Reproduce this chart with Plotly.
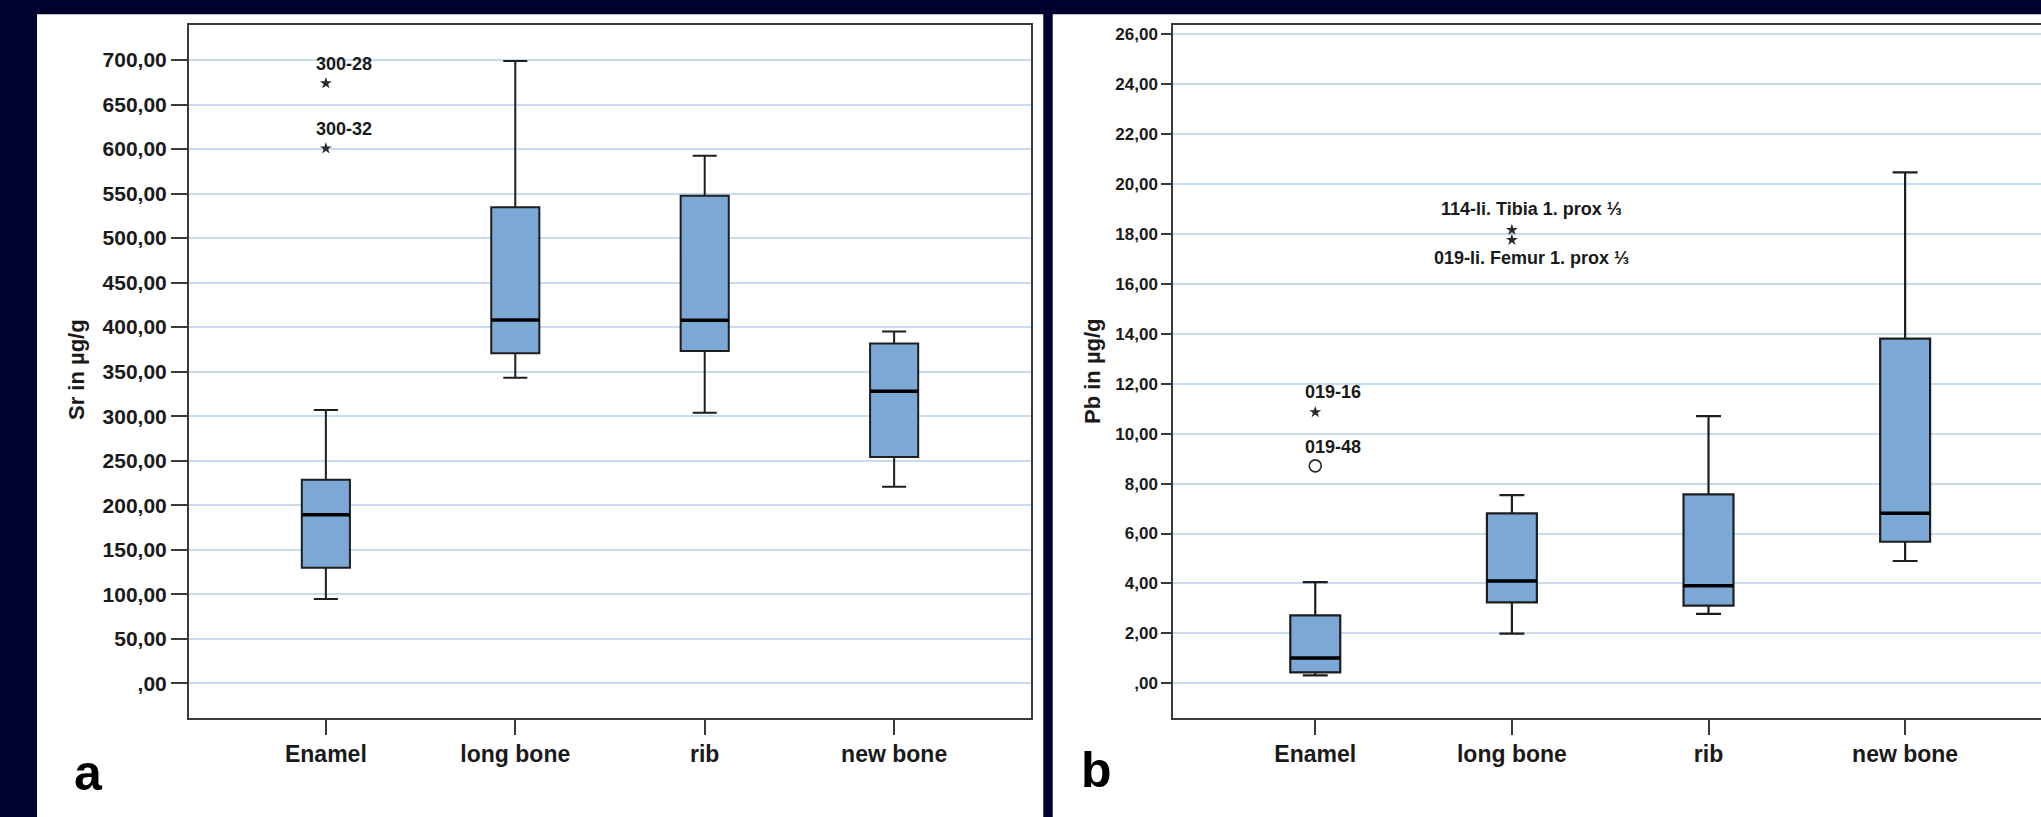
import plotly.graph_objects as go

W, H = 2041, 817

# ---------------- data ----------------
categories = ["Enamel", "long bone", "rib", "new bone"]

# panel a: Sr in µg/g
sr_lower = [94.7, 343.2, 303.9, 220.8]
sr_q1 = [129.8, 370.6, 373.2, 254.2]
sr_median = [189.4, 408.0, 407.7, 328.0]
sr_q3 = [228.7, 534.6, 547.6, 381.7]
sr_upper = [307.0, 699.0, 592.6, 395.2]
sr_star_cat = [0, 0]
sr_star_val = [673.9, 600.8]
sr_star_lbl = ["300-28", "300-32"]

# panel b: Pb in µg/g
pb_lower = [0.32, 1.99, 2.78, 4.90]
pb_q1 = [0.44, 3.24, 3.11, 5.67]
pb_median = [1.01, 4.10, 3.91, 6.81]
pb_q3 = [2.72, 6.81, 7.57, 13.81]
pb_upper = [4.05, 7.54, 10.70, 20.47]
pb_star_cat = [0, 1, 1]
pb_star_val = [10.86, 18.16, 17.76]
pb_star_lbl = ["019-16", "114-li. Tibia 1. prox \u2153", "019-li. Femur 1. prox \u2153"]
pb_circ_cat = [0]
pb_circ_val = [8.71]
pb_circ_lbl = ["019-48"]

sr_ticks = list(range(0, 701, 50))
sr_ticktext = [(f"{v},00" if v else ",00") for v in sr_ticks]
pb_ticks = list(range(0, 27, 2))
pb_ticktext = [(f"{v},00" if v else ",00") for v in pb_ticks]

# ---------------- styling ----------------
NAVY = "#01012D"
FILL = "#7BA8D5"
EDGE = "#1E1E1E"
GRID = "#C8DCF0"
AX = "#3A3A3A"
TXT = "#1A1A1A"
FONT = "Arial, Liberation Sans, sans-serif"
BOXW = 0.254

def px(x):
    return x / W

def py(y):
    return 1 - y / H

ydom = [py(717.7), py(25)]

fig = go.Figure()

cat_idx = list(range(len(categories)))

fig.add_trace(go.Box(
    x=cat_idx, q1=sr_q1, median=sr_median, q3=sr_q3,
    lowerfence=sr_lower, upperfence=sr_upper,
    width=BOXW, whiskerwidth=0.5, fillcolor=FILL,
    line=dict(color=EDGE, width=2), boxpoints=False,
    xaxis="x", yaxis="y", showlegend=False, hoverinfo="skip"))

fig.add_trace(go.Box(
    x=cat_idx, q1=pb_q1, median=pb_median, q3=pb_q3,
    lowerfence=pb_lower, upperfence=pb_upper,
    width=BOXW, whiskerwidth=0.5, fillcolor=FILL,
    line=dict(color=EDGE, width=2.2), boxpoints=False,
    xaxis="x2", yaxis="y2", showlegend=False, hoverinfo="skip"))

# outliers
fig.add_trace(go.Scatter(
    x=sr_star_cat, y=sr_star_val, mode="markers",
    marker=dict(symbol="star", size=9, color="#2A2A2A"),
    xaxis="x", yaxis="y", showlegend=False, hoverinfo="skip"))
fig.add_trace(go.Scatter(
    x=pb_star_cat, y=pb_star_val, mode="markers",
    marker=dict(symbol="star", size=9, color="#2A2A2A"),
    xaxis="x2", yaxis="y2", showlegend=False, hoverinfo="skip"))
fig.add_trace(go.Scatter(
    x=pb_circ_cat, y=pb_circ_val, mode="markers",
    marker=dict(symbol="circle-open", size=12, color="#2A2A2A",
                line=dict(width=1.6, color="#2A2A2A")),
    xaxis="x2", yaxis="y2", showlegend=False, hoverinfo="skip"))

shapes = []
# navy frame bands (top, left, divider)
shapes.append(dict(type="rect", xref="paper", yref="paper",
                   x0=-0.01, x1=1.01, y0=py(14.3), y1=1.01,
                   fillcolor=NAVY, line=dict(width=0), layer="below"))
shapes.append(dict(type="rect", xref="paper", yref="paper",
                   x0=-0.01, x1=px(37), y0=-0.01, y1=1.01,
                   fillcolor=NAVY, line=dict(width=0), layer="below"))
shapes.append(dict(type="rect", xref="paper", yref="paper",
                   x0=px(1043.3), x1=px(1052.7), y0=-0.01, y1=1.01,
                   fillcolor=NAVY, line=dict(width=0), layer="below"))
# median lines
for i, m in enumerate(sr_median):
    shapes.append(dict(type="line", xref="x", yref="y",
                       x0=i - BOXW / 2, x1=i + BOXW / 2, y0=m, y1=m,
                       line=dict(color="black", width=3.5)))
for i, m in enumerate(pb_median):
    shapes.append(dict(type="line", xref="x2", yref="y2",
                       x0=i - BOXW / 2, x1=i + BOXW / 2, y0=m, y1=m,
                       line=dict(color="black", width=3.5)))

annotations = []
lblfont = dict(family=FONT, size=18, color=TXT, weight="bold")
for c, v, t in zip(sr_star_cat, sr_star_val, sr_star_lbl):
    annotations.append(dict(x=c, y=v, xref="x", yref="y", text=t, showarrow=False,
                            xanchor="left", yanchor="middle", xshift=-12, yshift=19,
                            font=lblfont))
# Pb labels
annotations.append(dict(x=pb_star_cat[0], y=pb_star_val[0], xref="x2", yref="y2",
                        text=pb_star_lbl[0], showarrow=False, xanchor="left",
                        yanchor="middle", xshift=-12, yshift=20, font=lblfont))
annotations.append(dict(x=pb_circ_cat[0], y=pb_circ_val[0], xref="x2", yref="y2",
                        text=pb_circ_lbl[0], showarrow=False, xanchor="left",
                        yanchor="middle", xshift=-12, yshift=19, font=lblfont))
annotations.append(dict(x=pb_star_cat[1], y=pb_star_val[1], xref="x2", yref="y2",
                        text=pb_star_lbl[1], showarrow=False, xanchor="center",
                        yanchor="middle", xshift=20, yshift=21, font=lblfont))
annotations.append(dict(x=pb_star_cat[2], y=pb_star_val[2], xref="x2", yref="y2",
                        text=pb_star_lbl[2], showarrow=False, xanchor="center",
                        yanchor="middle", xshift=20, yshift=-18, font=lblfont))
# axis titles
annotations.append(dict(x=px(76), y=py(370), xref="paper", yref="paper",
                        text="Sr in \u00b5g/g", textangle=-90, showarrow=False,
                        xanchor="center", yanchor="middle",
                        font=dict(family=FONT, size=22, color=TXT, weight="bold")))
annotations.append(dict(x=px(1092), y=py(371), xref="paper", yref="paper",
                        text="Pb in \u00b5g/g", textangle=-90, showarrow=False,
                        xanchor="center", yanchor="middle",
                        font=dict(family=FONT, size=22, color=TXT, weight="bold")))
# panel letters
annotations.append(dict(x=px(88.5), y=py(773), xref="paper", yref="paper",
                        text="a", showarrow=False, xanchor="center", yanchor="middle",
                        font=dict(family=FONT, size=50, color="black", weight="bold")))
annotations.append(dict(x=px(1096.5), y=py(770), xref="paper", yref="paper",
                        text="b", showarrow=False, xanchor="center", yanchor="middle",
                        font=dict(family=FONT, size=50, color="black", weight="bold")))

xcommon = dict(tickmode="array", tickvals=cat_idx, ticktext=categories,
               ticks="outside", ticklen=15, tickwidth=2, tickcolor=AX,
               showline=True, linecolor=AX, linewidth=2, mirror=True,
               showgrid=False, zeroline=False,
               tickfont=dict(family=FONT, size=23, color=TXT, weight="bold"))

fig.update_layout(
    width=W, height=H,
    margin=dict(l=0, r=0, t=0, b=0),
    paper_bgcolor="white", plot_bgcolor="rgba(0,0,0,0)",
    shapes=shapes, annotations=annotations,
    xaxis=dict(domain=[px(189), px(1031)], range=[-0.7225, 3.7225], anchor="y", **xcommon),
    yaxis=dict(domain=ydom, range=[-38.6, 739.3], anchor="x",
               tickmode="array", tickvals=sr_ticks, ticktext=sr_ticktext,
               ticks="outside", ticklen=16, tickwidth=2, tickcolor=AX,
               showline=True, linecolor=AX, linewidth=2, mirror=True,
               showgrid=True, gridcolor=GRID, gridwidth=2, zeroline=False,
               tickfont=dict(family=FONT, size=21, color=TXT, weight="bold")),
    xaxis2=dict(domain=[px(1173.3), 1], range=[-0.722, 3.691], anchor="y2", **xcommon),
    yaxis2=dict(domain=ydom, range=[-1.378, 26.37], anchor="x2",
                tickmode="array", tickvals=pb_ticks, ticktext=pb_ticktext,
                ticks="outside", ticklen=10, tickwidth=2, tickcolor=AX,
                showline=True, linecolor=AX, linewidth=2, mirror=False,
                showgrid=True, gridcolor=GRID, gridwidth=2, zeroline=False,
                tickfont=dict(family=FONT, size=17, color=TXT, weight="bold")),
)

fig.write_html(
    "out.html",
    config={"displayModeBar": False},
    post_script="document.body.style.margin='0';document.body.style.overflow='hidden';",
)
